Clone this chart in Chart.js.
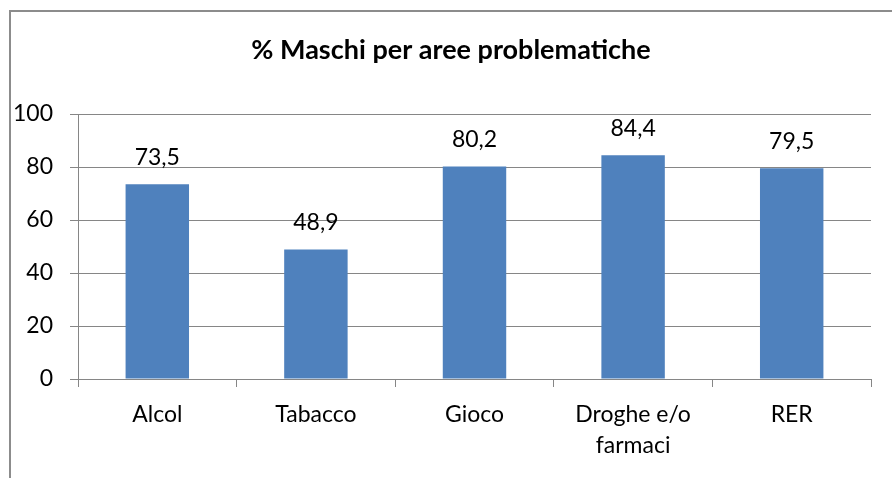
<!DOCTYPE html>
<html>
<head>
<meta charset="utf-8">
<script src="https://cdn.jsdelivr.net/npm/chart.js@4/dist/chart.umd.min.js"></script>
<style>
    body { margin: 0; background: #fff; }
    #cornice {
        position: absolute; left: 9px; top: 10px;
        width: 900px; height: 500px;
        border-left: 2px solid #8c8c8c; border-top: 2px solid #8c8c8c;
    }
    #grafico { position: absolute; left: 0; top: 0; }
</style>
</head>
<body>
<div id="cornice"></div>
<canvas id="grafico" width="892" height="478"></canvas>
<script>

// dati
var categorie = ["Alcol", "Tabacco", "Gioco", ["Droghe e/o", "farmaci"], "RER"];
var percentualiMaschi = [73.5, 48.9, 80.2, 84.4, 79.5];
var tickAsseY = [0, 20, 40, 60, 80, 100];

var font = "Lato, 'Open Sans', sans-serif";
var grigio = "#868686";

// etichette sopra le barre, con la virgola come separatore decimale
var etichetteValori = {
    id: "etichetteValori",
    afterDatasetsDraw: function (chart) {
        var ctx = chart.ctx;
        var meta = chart.getDatasetMeta(0);
        ctx.save();
        ctx.font = "23px " + font;
        ctx.fillStyle = "#000";
        ctx.textAlign = "center";
        ctx.textBaseline = "alphabetic";
        meta.data.forEach(function (barra, i) {
            var testo = percentualiMaschi[i].toFixed(1).replace(".", ",");
            ctx.fillText(testo, barra.x, barra.y - 19);
        });
        ctx.restore();
    }
};

// il titolo nell'originale è un po' spostato a destra rispetto al centro della tela
var spostaTitolo = {
    id: "spostaTitolo",
    afterLayout: function (chart) {
        if (chart.titleBlock) {
            chart.titleBlock.left = 31;
        }
    }
};

var config = {
    type: "bar",
    data: {
        labels: categorie,
        datasets: [
            {
                label: "% Maschi",
                data: percentualiMaschi,
                backgroundColor: "#4f81bd",
                categoryPercentage: 1,
                barPercentage: 0.4
            }
        ]
    },
    options: {
        responsive: false,
        animation: false,
        layout: {
            padding: { top: 10, left: 10, right: 21, bottom: 0 }
        },
        plugins: {
            legend: { display: false },
            tooltip: { enabled: false },
            title: {
                display: true,
                text: "% Maschi per aree problematiche",
                color: "#000",
                font: { family: font, size: 27, weight: "bold", lineHeight: 1.2 },
                padding: { top: 24, bottom: 47.6 }
            }
        },
        scales: {
            y: {
                min: 0,
                max: 100,
                afterBuildTicks: function (scala) {
                    scala.ticks = tickAsseY.map(function (v) { return { value: v }; });
                },
                afterFit: function (scala) { scala.width = 68; },
                border: { display: true, color: grigio, width: 1 },
                grid: { color: grigio, tickLength: 8, tickColor: grigio },
                ticks: {
                    color: "#000",
                    padding: 17,
                    font: { family: font, size: 23 }
                }
            },
            x: {
                afterFit: function (scala) { scala.height = 99; },
                border: { display: true, color: grigio, width: 1 },
                grid: { drawOnChartArea: false, offset: true, tickLength: 8, tickColor: grigio },
                ticks: {
                    color: "#000",
                    padding: 12,
                    maxRotation: 0,
                    autoSkip: false,
                    font: { family: font, size: 23, lineHeight: 1.35 }
                }
            }
        }
    },
    plugins: [etichetteValori, spostaTitolo]
};

var myChartBar = new Chart(document.getElementById("grafico"), config);
</script>
</body>
</html>
